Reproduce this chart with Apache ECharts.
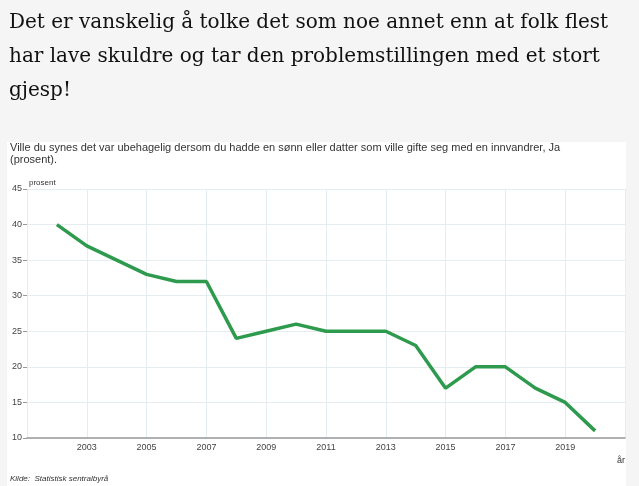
<!DOCTYPE html>
<html><head><meta charset="utf-8">
<script src="https://cdn.jsdelivr.net/npm/echarts@6/dist/echarts.min.js"></script>
<style>html,body{margin:0;padding:0;background:#f5f5f5;}#c{width:639px;height:486px;}</style>
</head><body><div id="c"></div>
<script>
const years = [2002,2003,2004,2005,2006,2007,2008,2009,2010,2011,2012,2013,2014,2015,2016,2017,2018,2019,2020];
const values = [40,37,35,33,32,32,24,25,26,25,25,25,23,17,20,20,17,15,11];
const heading = "Det er vanskelig å tolke det som noe annet enn at folk flest\nhar lave skuldre og tar den problemstillingen med et stort\ngjesp!";
const chartTitle = "Ville du synes det var ubehagelig dersom du hadde en sønn eller datter som ville gifte seg med en innvandrer, Ja\n(prosent).";
const source = "Kilde:  Statistisk sentralbyrå";

const chart = echarts.init(document.getElementById('c'));
chart.setOption({
  backgroundColor: '#f5f5f5',
  animation: false,
  graphic: [
    {type:'rect', left:7, top:142, shape:{width:619, height:344}, style:{fill:'#ffffff'}, z:-10},
    {type:'text', left:10, top:475, style:{text:source, font:'italic 8px "Liberation Sans", Arial', fill:'#333'}}
  ],
  title: [
    {text: heading, left: 9, top: 6, padding:0, textStyle:{fontFamily:'"DejaVu Serif", serif', fontSize:20, fontWeight:'normal', color:'#111', lineHeight:34}},
    {text: chartTitle, left: 10, top: 142, padding:0, textStyle:{fontFamily:'"Liberation Sans", Arial', fontSize:11, fontWeight:'normal', color:'#333', lineHeight:12}}
  ],
  grid: {left:27, right:14, top:189, bottom:48},
  xAxis: {
    type:'value', min:2001, max:2021, interval:2,
    name:'år', nameLocation:'end', nameGap:0,
    nameTextStyle:{fontSize:9, color:'#333', align:'right', verticalAlign:'top', padding:[18,0,0,0], fontFamily:'"Liberation Sans", Arial'},
    axisLine:{lineStyle:{color:'#999', width:1.5}},
    axisTick:{show:false},
    axisLabel:{showMinLabel:false, showMaxLabel:false, fontSize:9, color:'#444', margin:5, fontFamily:'"Liberation Sans", Arial', formatter: v => String(v)},
    splitLine:{show:true, lineStyle:{color:'#e6edf0'}}
  },
  yAxis: {
    type:'value', min:10, max:45, interval:5,
    name:'prosent', nameLocation:'end', nameGap:2,
    nameTextStyle:{fontSize:8, color:'#333', align:'left', padding:[0,0,0,2], fontFamily:'"Liberation Sans", Arial'},
    axisLine:{show:false},
    axisTick:{show:true, length:4, lineStyle:{color:'#999'}},
    axisLabel:{fontSize:9, color:'#444', margin:5, fontFamily:'"Liberation Sans", Arial'},
    splitLine:{show:true, lineStyle:{color:'#e6edf0'}}
  },
  series: [{
    type:'line',
    data: years.map((y,i)=>[y, values[i]]),
    showSymbol:false,
    lineStyle:{color:'#2e9a4e', width:3.5},
    itemStyle:{color:'#2e9a4e'}
  }]
});
</script></body></html>
